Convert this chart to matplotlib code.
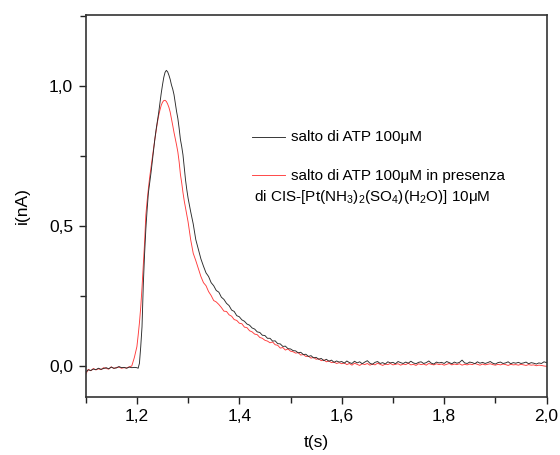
import numpy as np
import matplotlib
matplotlib.use('Agg')
import matplotlib.pyplot as plt
from matplotlib.ticker import FuncFormatter, MultipleLocator

plt.rcParams['font.family'] = ['Liberation Sans', 'DejaVu Sans']
plt.rcParams['mathtext.fontset'] = 'custom'
plt.rcParams['mathtext.rm'] = 'Liberation Sans'
plt.rcParams['mathtext.it'] = 'Liberation Sans:italic'

# sample times (s): coarse on baseline/tail, finer around the peak
t = np.concatenate([
    np.arange(1.100, 1.1999, 0.005),
    np.arange(1.200, 1.2999, 0.0025),
    np.arange(1.300, 2.0001, 0.005),
])

# ATP jump 100 uM (black)
atp = [
    # 1.100 - 1.195
    -0.022, -0.014, -0.016, -0.011, -0.013, -0.008, -0.012, -0.009, -0.006, -0.010,
    -0.004, -0.008, -0.007, -0.002, -0.006, -0.005, -0.008, -0.004, -0.006, -0.005,
    # 1.2000 - 1.2975
    -0.006, -0.008, 0.010, 0.069, 0.14, 0.29, 0.40, 0.49, 0.56, 0.62,
    0.655, 0.69, 0.73, 0.77, 0.81, 0.845, 0.875, 0.905, 0.94, 0.975,
    1.005, 1.032, 1.05, 1.057, 1.052, 1.04, 1.025, 1.005, 0.99, 0.97,
    0.94, 0.91, 0.885, 0.85, 0.81, 0.785, 0.755, 0.71, 0.665, 0.63,
    # 1.300 - 1.495
    0.600, 0.552, 0.508, 0.452, 0.418, 0.383, 0.357, 0.333, 0.320, 0.298,
    0.287, 0.270, 0.264, 0.246, 0.238, 0.224, 0.216, 0.200, 0.195, 0.180,
    0.176, 0.165, 0.160, 0.150, 0.146, 0.136, 0.132, 0.122, 0.120, 0.110,
    0.109, 0.099, 0.099, 0.089, 0.090, 0.080, 0.079, 0.070, 0.071, 0.062,
    # 1.500 - 1.595
    0.061, 0.055, 0.054, 0.047, 0.049, 0.041, 0.042, 0.034, 0.037, 0.029,
    0.031, 0.024, 0.027, 0.019, 0.024, 0.017, 0.021, 0.013, 0.018, 0.014,
    # 1.600 - 2.000
    0.016, 0.010, 0.018, 0.012, 0.009, 0.017, 0.011, 0.015, 0.008, 0.014,
    0.019, 0.010, 0.006, 0.013, 0.016, 0.009, 0.012, 0.007, 0.015, 0.011,
    0.013, 0.008, 0.016, 0.012, 0.009, 0.014, 0.010, 0.017, 0.011, 0.008,
    0.013, 0.015, 0.009, 0.012, 0.018, 0.010, 0.007, 0.014, 0.011, 0.013,
    0.009, 0.016, 0.012, 0.008, 0.014, 0.010, 0.013, 0.021, 0.011, 0.009,
    0.014, 0.012, 0.008, 0.015, 0.010, 0.013, 0.009, 0.012, 0.016, 0.010,
    0.007, 0.012, 0.014, 0.009, 0.011, 0.015, 0.008, 0.012, 0.010, 0.013,
    0.009, 0.011, 0.014, 0.008, 0.012, 0.010, 0.007, 0.011, 0.009, 0.015, 0.012,
]

# ATP jump with CIS-[Pt(NH3)2(SO4)(H2O)] 10 uM (red)
atp_pt = [
    # 1.100 - 1.195
    -0.030, -0.012, -0.017, -0.009, -0.014, -0.010, -0.013, -0.006, -0.009, -0.011,
    -0.003, -0.009, -0.005, -0.004, -0.008, -0.006, -0.007, -0.003, 0.000, 0.030,
    # 1.2000 - 1.2975
    0.069, 0.11, 0.155, 0.21, 0.28, 0.36, 0.44, 0.54, 0.59, 0.635,
    0.675, 0.71, 0.745, 0.777, 0.81, 0.84, 0.87, 0.895, 0.915, 0.932,
    0.943, 0.949, 0.950, 0.946, 0.937, 0.925, 0.908, 0.885, 0.86, 0.835,
    0.813, 0.79, 0.765, 0.73, 0.685, 0.655, 0.62, 0.59, 0.565, 0.54,
    # 1.300 - 1.495
    0.515, 0.452, 0.403, 0.377, 0.348, 0.320, 0.298, 0.287, 0.266, 0.252,
    0.234, 0.229, 0.220, 0.209, 0.196, 0.195, 0.183, 0.178, 0.166, 0.163,
    0.153, 0.151, 0.139, 0.137, 0.126, 0.122, 0.114, 0.112, 0.102, 0.099,
    0.092, 0.089, 0.083, 0.086, 0.076, 0.074, 0.064, 0.066, 0.057, 0.061,
    # 1.500 - 1.595
    0.053, 0.051, 0.046, 0.048, 0.039, 0.041, 0.034, 0.035, 0.028, 0.031,
    0.024, 0.026, 0.019, 0.022, 0.015, 0.018, 0.012, 0.014, 0.009, 0.012,
    # 1.600 - 2.000
    0.008, 0.011, 0.005, 0.009, 0.003, 0.010, 0.006, 0.002, 0.008, 0.005,
    0.009, 0.003, 0.007, 0.004, 0.010, 0.006, 0.002, 0.007, 0.005, 0.009,
    0.004, 0.006, 0.008, 0.003, 0.007, 0.005, 0.010, 0.004, 0.006, 0.002,
    0.008, 0.005, 0.007, 0.003, 0.009, 0.006, 0.004, 0.008, 0.005, 0.007,
    0.003, 0.006, 0.009, 0.004, 0.007, 0.005, 0.008, 0.003, 0.006, 0.004,
    0.007, 0.005, 0.009, 0.006, 0.003, 0.007, 0.004, 0.006, 0.008, 0.005,
    0.003, 0.006, 0.004, 0.007, 0.005, 0.002, 0.006, 0.004, 0.005, 0.003,
    0.006, 0.004, 0.002, 0.005, 0.003, 0.004, 0.001, 0.003, 0.002, 0.000, -0.001,
]

label_atp = 'salto di ATP 100\u03bcM'
label_pt_1 = 'salto di ATP 100\u03bcM in presenza'
label_pt_2 = 'di CIS-[Pt(NH$_3$)$_2$(SO$_4$)(H$_2$O)] 10\u03bcM'

fig = plt.figure(figsize=(5.6, 4.55), dpi=100)
ax = fig.add_axes([0.153, 0.128, 0.823, 0.839])

ax.plot(t, atp_pt, color='#ff3b3b', lw=0.65)
ax.plot(t, atp, color='#2a2a2a', lw=0.65)

ax.set_xlim(1.1, 2.0)
ax.set_ylim(-0.11, 1.255)

comma = FuncFormatter(lambda v, pos: f'{v:.1f}'.replace('.', ','))
ax.xaxis.set_major_locator(MultipleLocator(0.2))
ax.xaxis.set_minor_locator(MultipleLocator(0.1))
ax.yaxis.set_major_locator(MultipleLocator(0.5))
ax.yaxis.set_minor_locator(MultipleLocator(0.25))
ax.xaxis.set_major_formatter(comma)
ax.yaxis.set_major_formatter(comma)
ax.tick_params(which='both', direction='out', top=False, right=False,
               width=1.0, color='#222222', labelsize=12.5)
ax.tick_params(which='major', length=5, pad=4)
ax.tick_params(which='minor', length=4)

for s in ax.spines.values():
    s.set_linewidth(1.2)
    s.set_color('#333333')

ax.set_xlabel('t(s)', fontsize=12.5, labelpad=8)
ax.set_ylabel('i(nA)', fontsize=12.5, labelpad=14)

# legend drawn by hand (second line sits under the handle)
ax.plot([0.360, 0.432], [0.681, 0.681], color='#2a2a2a', lw=0.65, transform=ax.transAxes)
ax.text(0.446, 0.681, label_atp, transform=ax.transAxes, fontsize=11, va='center')
ax.plot([0.360, 0.432], [0.581, 0.581], color='#ff3b3b', lw=0.65, transform=ax.transAxes)
ax.text(0.446, 0.579, label_pt_1, transform=ax.transAxes, fontsize=11, va='center')
ax.text(0.366, 0.522, label_pt_2, transform=ax.transAxes, fontsize=11, va='center')

fig.savefig('out.png', dpi=100)
